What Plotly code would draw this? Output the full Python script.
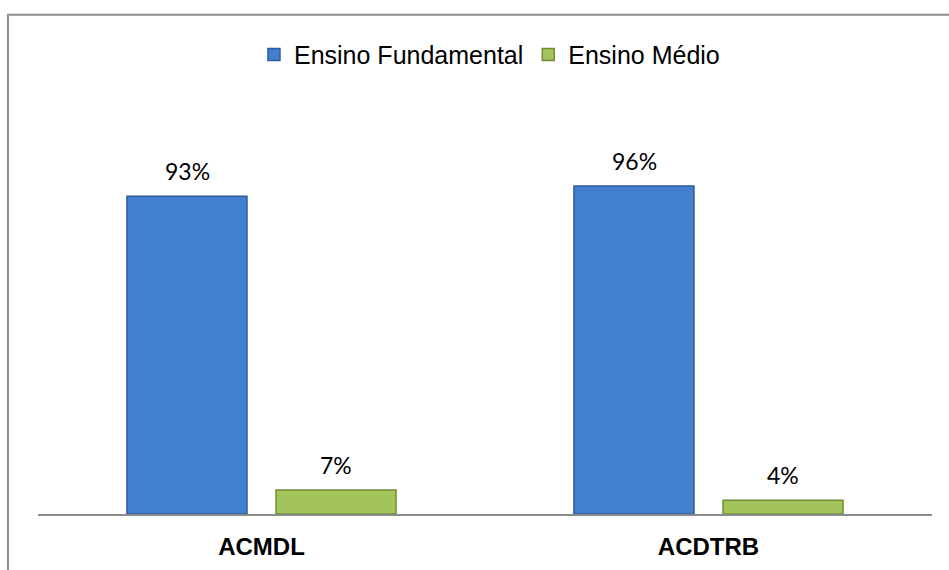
import plotly.graph_objects as go

categories = ["ACMDL", "ACDTRB"]
series_names = ["Ensino Fundamental", "Ensino Médio"]
fundamental = [0.93, 0.96]
medio = [0.07, 0.04]
series_values = [fundamental, medio]

colors = ["#4280CF", "#A2C45A"]
line_colors = ["#2E5B9C", "#6F8C35"]

fig = go.Figure()
for name, vals, c, lc in zip(series_names, series_values, colors, line_colors):
    fig.add_trace(go.Bar(
        x=categories, y=vals, name=name,
        marker=dict(color=c, line=dict(color=lc, width=1.5)),
        hoverinfo="skip",
    ))

# data labels above bars
slot_shift = 74.5
for i, vals in enumerate(series_values):
    shift = -slot_shift if i == 0 else slot_shift
    for cat, v in zip(categories, vals):
        fig.add_annotation(
            x=cat, y=v, text=f"{round(v*100)}%", showarrow=False,
            xshift=shift, yshift=25, yanchor="middle",
            font=dict(family="Lato, Open Sans, sans-serif", size=23, color="#000000"),
        )

# outer chart frame
fig.add_shape(type="rect", xref="paper", yref="paper",
              x0=-0.0336, x1=1.1, y0=-0.3, y1=1.2175,
              line=dict(color="#8C8C8C", width=2), fillcolor="rgba(0,0,0,0)")

fig.update_layout(
    width=949, height=570,
    margin=dict(l=38, r=17, t=104, b=56, autoexpand=False),
    paper_bgcolor="white", plot_bgcolor="white",
    barmode="group", bargap=0.333, bargroupgap=0.195,
    showlegend=True,
    legend=dict(orientation="h", x=0.505, xanchor="center", y=1.12, yanchor="middle",
                font=dict(family="Liberation Sans, Arial, sans-serif", size=25, color="#000000"),
                itemwidth=30, bgcolor="rgba(0,0,0,0)"),
    xaxis=dict(showline=True, linecolor="#8C8C8C", linewidth=2, ticks="",
               tickfont=dict(family="Liberation Sans, Arial, sans-serif", size=24, color="#000000",
                             weight="bold"),
               ticklabelstandoff=10, showgrid=False, zeroline=False, automargin=False),
    yaxis=dict(range=[0, 1.2], visible=False, showgrid=False, zeroline=False, automargin=False),
)

fig.write_html("out.html")
